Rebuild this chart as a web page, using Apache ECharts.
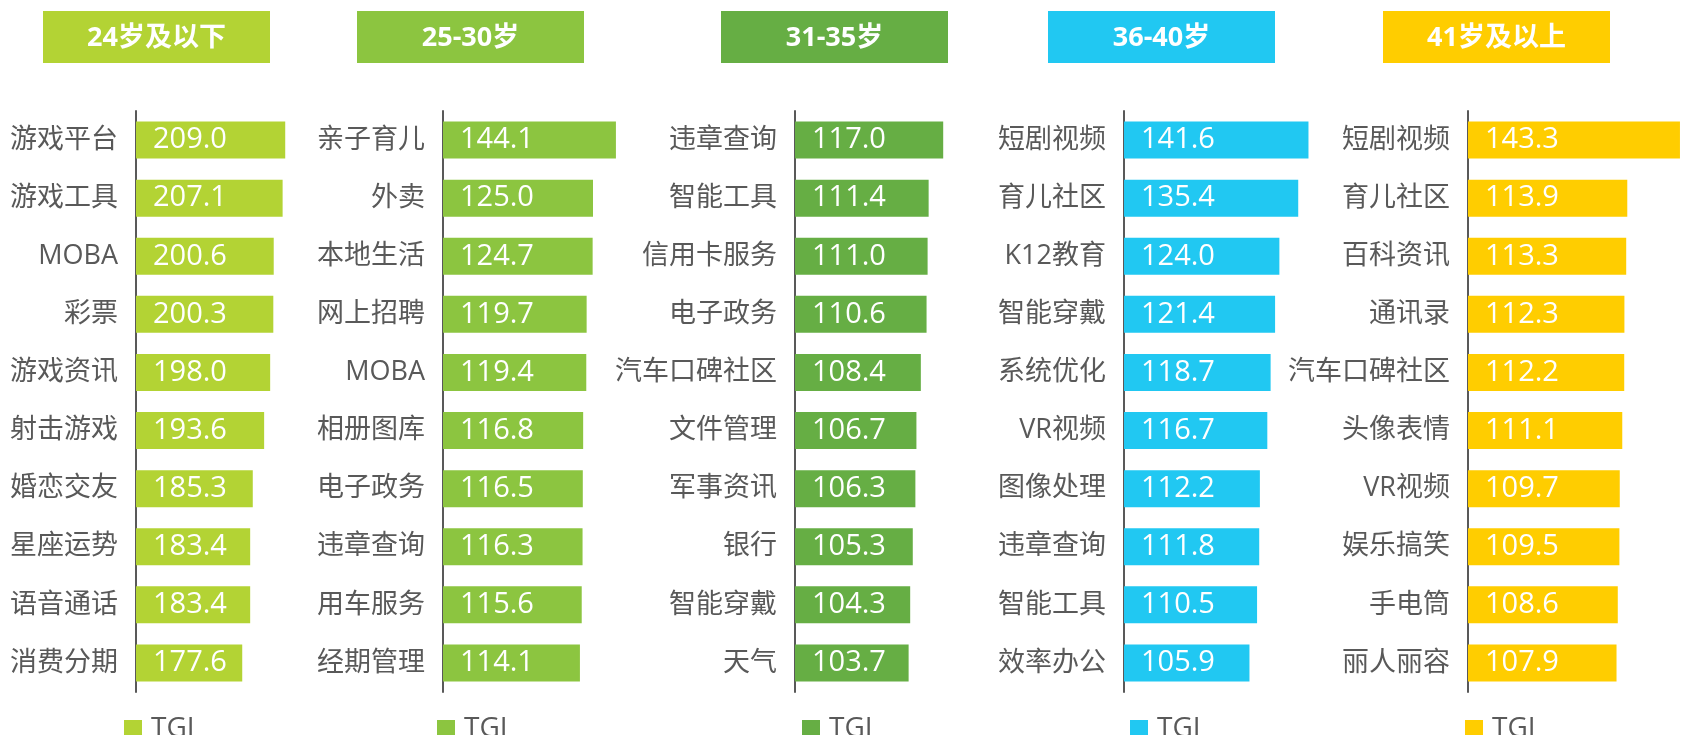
<!DOCTYPE html>
<html>
<head>
<meta charset="utf-8">
<script src="https://cdn.jsdelivr.net/npm/echarts@6/dist/echarts.min.js"></script>
<style>
  html, body { margin: 0; padding: 0; background: #fff; }
  #chart { width: 1683px; height: 735px; }
</style>
</head>
<body>
<div id="chart"></div>
<script>
// age groups (header boxes)
const groups = ['24岁及以下', '25-30岁', '31-35岁', '36-40岁', '41岁及以上'];

// categories and TGI values per age group
const cats1 = ['游戏平台', '游戏工具', 'MOBA', '彩票', '游戏资讯', '射击游戏', '婚恋交友', '星座运势', '语音通话', '消费分期'];
const vals1 = [209.0, 207.1, 200.6, 200.3, 198.0, 193.6, 185.3, 183.4, 183.4, 177.6];

const cats2 = ['亲子育儿', '外卖', '本地生活', '网上招聘', 'MOBA', '相册图库', '电子政务', '违章查询', '用车服务', '经期管理'];
const vals2 = [144.1, 125.0, 124.7, 119.7, 119.4, 116.8, 116.5, 116.3, 115.6, 114.1];

const cats3 = ['违章查询', '智能工具', '信用卡服务', '电子政务', '汽车口碑社区', '文件管理', '军事资讯', '银行', '智能穿戴', '天气'];
const vals3 = [117.0, 111.4, 111.0, 110.6, 108.4, 106.7, 106.3, 105.3, 104.3, 103.7];

const cats4 = ['短剧视频', '育儿社区', 'K12教育', '智能穿戴', '系统优化', 'VR视频', '图像处理', '违章查询', '智能工具', '效率办公'];
const vals4 = [141.6, 135.4, 124.0, 121.4, 118.7, 116.7, 112.2, 111.8, 110.5, 105.9];

const cats5 = ['短剧视频', '育儿社区', '百科资讯', '通讯录', '汽车口碑社区', '头像表情', 'VR视频', '娱乐搞笑', '手电筒', '丽人丽容'];
const vals5 = [143.3, 113.9, 113.3, 112.3, 112.2, 111.1, 109.7, 109.5, 108.6, 107.9];

const allCats = [cats1, cats2, cats3, cats4, cats5];
const allVals = [vals1, vals2, vals3, vals4, vals5];

// per panel look
const colors = ['#b3d334', '#8cc540', '#66ae44', '#21c8f2', '#ffcd00'];
const axisX = [136, 443, 795, 1124, 1468];
const axisMin = [100, 0, 60, 30, 25];
const axisMax = [210, 150, 120, 150, 145];
const pxPerUnit = [1.369, 1.2, 2.6, 1.653, 1.85];
const headerLeft = [43, 357, 721, 1048, 1383];
const legendLeft = [124, 437, 802, 1130, 1465];

const FONT = '"Open Sans", "Noto Sans CJK SC", sans-serif';
const GRAY = '#595959';

const grid = [], xAxis = [], yAxis = [], series = [], legend = [], graphic = [];

for (let i = 0; i < 5; i++) {
    grid.push({
        left: axisX[i],
        top: 111,
        width: (axisMax[i] - axisMin[i]) * pxPerUnit[i],
        height: 581
    });
    xAxis.push({
        gridIndex: i,
        type: 'value',
        min: axisMin[i],
        max: axisMax[i],
        startValue: axisMin[i],
        show: false,
        splitLine: { show: false }
    });
    yAxis.push({
        gridIndex: i,
        type: 'category',
        inverse: true,
        data: allCats[i],
        axisLine: { show: true, lineStyle: { color: GRAY, width: 2 } },
        axisTick: { show: false },
        axisLabel: { color: GRAY, fontSize: 27, fontFamily: FONT, margin: 18, padding: [3, 0, 0, 0] }
    });
    series.push({
        name: 'TGI',
        type: 'bar',
        xAxisIndex: i,
        yAxisIndex: i,
        data: allVals[i],
        barWidth: 37,
        clip: true,
        itemStyle: { color: colors[i] },
        label: {
            show: true,
            position: 'insideLeft',
            distance: 17,
            color: '#fff',
            fontSize: 29,
            fontFamily: FONT,
            padding: [3, 0, 0, 0],
            formatter: p => p.value.toFixed(1)
        }
    });
    legend.push({
        left: legendLeft[i],
        top: 715,
        padding: 0,
        itemWidth: 18,
        itemHeight: 18,
        icon: 'rect',
        data: [{ name: 'TGI', itemStyle: { color: colors[i] } }],
        textStyle: { color: GRAY, fontSize: 28, fontFamily: FONT, padding: [0, 0, 0, 4] }
    });
    graphic.push({
        type: 'group',
        left: headerLeft[i],
        top: 11,
        children: [
            {
                type: 'rect',
                shape: { x: 0, y: 0, width: 227, height: 52 },
                style: { fill: colors[i] }
            },
            {
                type: 'text',
                x: 113.5,
                y: 27,
                style: {
                    text: groups[i],
                    fill: '#fff',
                    font: 'bold 27px ' + FONT,
                    align: 'center',
                    verticalAlign: 'middle'
                }
            }
        ]
    });
}

const myChart = echarts.init(document.getElementById('chart'));
myChart.setOption({
    animation: false,
    grid: grid,
    xAxis: xAxis,
    yAxis: yAxis,
    legend: legend,
    graphic: graphic,
    series: series
});
</script>
</body>
</html>
